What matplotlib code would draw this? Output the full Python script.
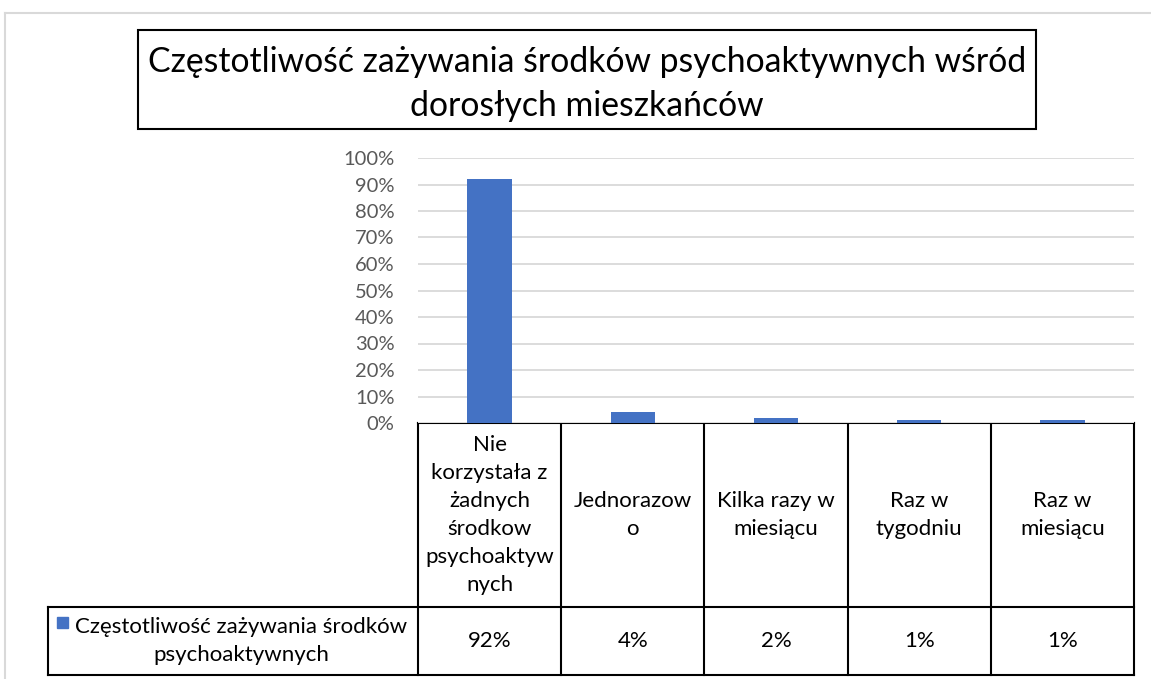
import matplotlib.pyplot as plt
import numpy as np
from matplotlib.patches import Rectangle
from matplotlib.ticker import PercentFormatter

plt.rcParams['font.family'] = ['Lato', 'DejaVu Sans']

title = 'Częstotliwość zażywania środków psychoaktywnych wśród\ndorosłych mieszkańców'
series_name = 'Częstotliwość zażywania środków\npsychoaktywnych'
categories = ['Nie\nkorzystała z\nżadnych\nśrodkow\npsychoaktyw\nnych',
              'Jednorazow\no',
              'Kilka razy w\nmiesiącu',
              'Raz w\ntygodniu',
              'Raz w\nmiesiącu']
values = [0.92, 0.04, 0.02, 0.01, 0.01]
value_labels = ['92%', '4%', '2%', '1%', '1%']

W, H = 1151, 679
fig = plt.figure(figsize=(W / 100, H / 100), dpi=100)

# background axes in pixel coordinates for frame, title box and table
bg = fig.add_axes([0, 0, 1, 1])
bg.set_xlim(0, W)
bg.set_ylim(H, 0)
bg.axis('off')

grey = '#d9d9d9'
bg.plot([5, W], [13, 13], color=grey, lw=1.5)
bg.plot([5, 5], [13, H], color=grey, lw=1.5)

bg.add_patch(Rectangle((138, 30), 898, 99, fill=False, ec='black', lw=1.5))
bg.text(587, 84, title, ha='center', va='center', fontsize=24.3, linespacing=1.48)

# plot area
x0, x1, y0, y1 = 418, 1134, 423, 158
ax = fig.add_axes([x0 / W, (H - y0) / H, (x1 - x0) / W, (y0 - y1) / H])
ax.bar(range(len(values)), values, width=0.31, color='#4472C4', zorder=3)
ax.set_xlim(-0.5, len(values) - 0.5)
ax.set_ylim(0, 1)
ax.set_yticks(np.arange(0, 1.01, 0.1))
ax.yaxis.set_major_formatter(PercentFormatter(1.0, decimals=0))
ax.yaxis.grid(True, color=grey, lw=1.3)
ax.set_xticks([])
for s in ax.spines.values():
    s.set_visible(False)
ax.tick_params(axis='y', length=0, pad=17, labelsize=14.5, labelcolor='#595959')

# data table
colw = (x1 - x0) / len(categories)
edges = [x0 + i * colw for i in range(len(categories) + 1)]
r0, r1, r2 = 423, 607, 675
lk = dict(color='black', lw=1.5)
bg.plot([x0, x1], [r0, r0], **lk)
bg.plot([48, x1], [r1, r1], **lk)
bg.plot([48, x1], [r2, r2], **lk)
bg.plot([48, 48], [r1, r2], **lk)
for e in edges:
    bg.plot([e, e], [r0, r2], **lk)

for i, (cat, lab) in enumerate(zip(categories, value_labels)):
    cx = (edges[i] + edges[i + 1]) / 2
    bg.text(cx, (r0 + r1) / 2, cat, ha='center', va='center', fontsize=16, linespacing=1.5)
    bg.text(cx, (r1 + r2) / 2, lab, ha='center', va='center', fontsize=16)

bg.add_patch(Rectangle((57, 617), 11, 11, color='#4472C4'))
bg.text(241, (r1 + r2) / 2, series_name, ha='center', va='center', fontsize=16, linespacing=1.5)

fig.savefig('out.png', dpi=100)
